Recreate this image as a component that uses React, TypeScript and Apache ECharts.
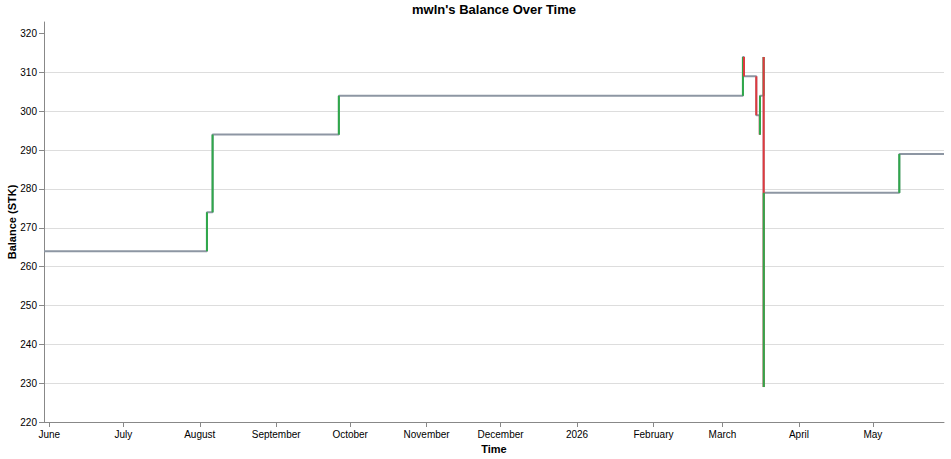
import { useEffect, useRef } from 'react'
import * as echarts from 'echarts'

// balance after each transaction (local time)
const times = [
  '2025-05-29T20:00',
  '2025-08-03T22:00',
  '2025-08-06T05:00',
  '2025-09-26T10:00',
  '2026-03-09T07:00',
  '2026-03-09T17:00',
  '2026-03-14T17:00',
  '2026-03-16T03:00',
  '2026-03-16T05:00',
  '2026-03-17T16:00',
  '2026-03-17T17:00',
  '2026-03-17T18:00',
  '2026-05-11T17:00',
  '2026-05-29T20:00',
]
const balances = [264, 274, 294, 304, 314, 309, 299, 294, 304, 314, 229, 279, 289, 289]

const monthTicks = [
  '2025-06-01T00:00',
  '2025-07-01T00:00',
  '2025-08-01T00:00',
  '2025-09-01T00:00',
  '2025-10-01T00:00',
  '2025-11-01T00:00',
  '2025-12-01T00:00',
  '2026-01-01T00:00',
  '2026-02-01T00:00',
  '2026-03-01T00:00',
  '2026-04-01T00:00',
  '2026-05-01T00:00',
]
const monthNames = [
  'January', 'February', 'March', 'April', 'May', 'June',
  'July', 'August', 'September', 'October', 'November', 'December',
]
const yTicks = [220, 230, 240, 250, 260, 270, 280, 290, 300, 310, 320]

const FONT = '"Liberation Sans", Arial, Helvetica, sans-serif'
const GRAY = '#8d96a3'
const GREEN = '#2fa84a'
const RED = '#e0393e'

export default function App() {
  const chartRef = useRef<HTMLDivElement>(null)

  useEffect(() => {
    document.body.style.margin = '0'
    if (!chartRef.current) return
    const chart = echarts.init(chartRef.current, undefined, { renderer: 'svg' })

    const ts = times.map((t) => new Date(t).getTime())
    const stepData = ts.map((t, i) => [t, balances[i]])

    // vertical moves: [time, from, to]
    const moves: number[][] = []
    for (let i = 1; i < ts.length; i++) {
      if (balances[i] === balances[i - 1]) continue
      moves.push([ts[i], balances[i - 1], balances[i]])
    }

    const tickValues = monthTicks.map((t) => new Date(t).getTime())

    const option: any = {
      animation: false,
      textStyle: { fontFamily: FONT },
      title: {
        text: "mwln's Balance Over Time",
        left: 494,
        top: 3,
        padding: 0,
        textAlign: 'center',
        textStyle: { fontFamily: FONT, fontSize: 13, fontWeight: 'bold', color: '#000' },
      },
      grid: { left: 44, right: 7, top: 22, bottom: 37, outerBoundsMode: 'none' },
      xAxis: {
        type: 'value',
        min: ts[0],
        max: ts[ts.length - 1],
        name: 'Time',
        nameLocation: 'middle',
        nameGap: 21,
        nameMoveOverlap: false,
        nameTextStyle: { fontFamily: FONT, fontSize: 11, fontWeight: 'bold', color: '#000' },
        axisLine: { show: true, onZero: false, lineStyle: { color: '#888', width: 1 } },
        axisTick: { show: true, length: 5, customValues: tickValues, lineStyle: { color: '#888' } },
        axisLabel: {
          customValues: tickValues,
          margin: 7,
          fontSize: 10,
          color: '#000',
          fontFamily: FONT,
          formatter: (v: number) => {
            const d = new Date(v)
            return d.getMonth() === 0 ? String(d.getFullYear()) : monthNames[d.getMonth()]
          },
        },
        splitLine: { show: false },
      },
      yAxis: {
        type: 'value',
        min: 220,
        max: 323,
        interval: 10,
        name: 'Balance (STK)',
        nameLocation: 'middle',
        nameGap: 27,
        nameMoveOverlap: false,
        nameTextStyle: { fontFamily: FONT, fontSize: 11, fontWeight: 'bold', color: '#000' },
        axisLine: { show: true, onZero: false, lineStyle: { color: '#888', width: 1 } },
        axisTick: { show: true, length: 5, customValues: yTicks, lineStyle: { color: '#888' } },
        axisLabel: { customValues: yTicks, margin: 7, fontSize: 10, color: '#000', fontFamily: FONT },
        splitLine: { show: true, showMaxLine: false, lineStyle: { color: '#ddd', width: 1 } },
      },
      series: [
        {
          type: 'line',
          step: 'end',
          data: stepData,
          showSymbol: false,
          symbol: 'none',
          z: 2,
          lineStyle: { color: GRAY, width: 2 },
        },
        {
          // green when balance goes up, red when it goes down
          type: 'custom',
          z: 5,
          data: moves,
          encode: { x: 0, y: [1, 2] },
          renderItem: (_params: any, api: any) => {
            const t = api.value(0)
            const from = api.value(1)
            const to = api.value(2)
            const p0 = api.coord([t, from])
            const p1 = api.coord([t, to])
            return {
              type: 'line',
              shape: { x1: p0[0], y1: p0[1], x2: p1[0], y2: p1[1] },
              style: { stroke: to > from ? GREEN : RED, lineWidth: 2 },
            }
          },
        },
      ],
    }

    chart.setOption(option)
    return () => {
      chart.dispose()
    }
  }, [])

  return <div ref={chartRef} style={{ width: '951px', height: '459px' }} />
}
